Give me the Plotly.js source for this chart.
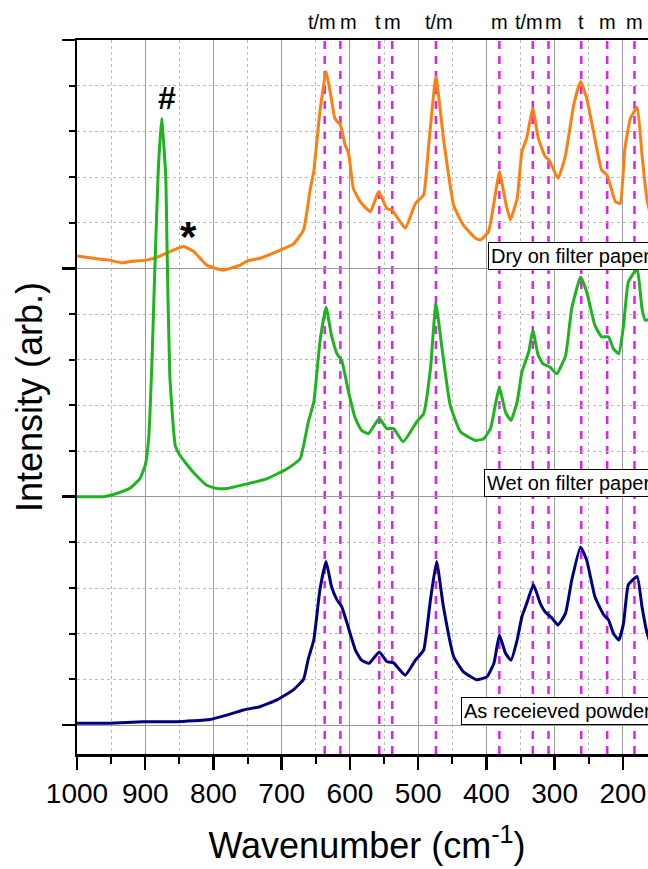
<!DOCTYPE html>
<html>
<head>
<meta charset="utf-8">
<script src="https://cdn.plot.ly/plotly-3.0.1.min.js"></script>
<style>
html, body { margin: 0; padding: 0; overflow: hidden; background: #fff; }
#chart { width: 700px; height: 869px; }
</style>
</head>
<body>
<div id="chart"></div>
<script>
// ---- Data (relative intensity above each spectrum's own baseline) ----
const dryWn = [1000, 976, 953, 934, 922, 898, 878, 859, 844, 829, 810, 786, 761, 751, 732, 702, 683, 668, 658, 653, 644, 635, 629, 622, 614, 607, 602, 595, 585, 570, 558, 546, 538, 519, 504, 492, 485, 474, 463, 448, 434, 416, 409, 397, 387, 381, 372, 365, 355, 348, 341, 332, 324, 314, 308, 295, 284, 272, 262, 253, 243, 231, 223, 211, 204, 197, 189, 179, 172, 165, 160];
const dryI  = [0.27, 0.22, 0.18, 0.12, 0.15, 0.18, 0.27, 0.40, 0.48, 0.37, 0.07, -0.04, 0.07, 0.16, 0.22, 0.40, 0.53, 0.84, 1.75, 2.12, 3.43, 4.31, 3.87, 3.28, 3.14, 2.70, 2.52, 1.75, 1.46, 1.24, 1.68, 1.31, 1.27, 0.88, 1.42, 1.61, 2.63, 4.19, 2.85, 1.38, 0.95, 0.66, 0.62, 0.80, 1.61, 2.12, 1.46, 1.06, 1.53, 2.55, 2.85, 3.50, 2.85, 2.45, 2.37, 1.97, 2.48, 3.58, 4.09, 3.72, 2.99, 2.15, 2.04, 1.46, 1.42, 2.63, 3.28, 3.53, 2.48, 1.53, 1.20];

const wetWn = [1000, 961, 942, 922, 908, 900, 895, 890, 887, 881, 876, 870, 868, 864, 856, 849, 830, 810, 795, 780, 751, 722, 692, 673, 661, 653, 644, 635, 627, 619, 612, 602, 592, 583, 573, 557, 546, 536, 522, 502, 492, 482, 474, 465, 453, 438, 416, 404, 394, 387, 381, 372, 364, 355, 348, 338, 332, 324, 317, 307, 297, 284, 275, 262, 253, 241, 231, 221, 214, 206, 199, 192, 179, 172, 167, 160];
const wetI  = [0.0, 0.0, 0.07, 0.19, 0.39, 0.69, 1.27, 3.02, 4.49, 7.11, 8.28, 7.04, 5.43, 2.66, 1.12, 0.90, 0.54, 0.25, 0.18, 0.18, 0.28, 0.39, 0.61, 0.83, 1.64, 2.07, 3.39, 4.15, 3.53, 3.13, 2.98, 2.29, 1.71, 1.45, 1.38, 1.71, 1.49, 1.49, 1.20, 1.64, 1.82, 2.80, 4.23, 3.24, 2.00, 1.42, 1.23, 1.27, 1.49, 2.00, 2.40, 1.85, 1.67, 2.07, 2.73, 3.17, 3.64, 3.09, 2.91, 2.84, 2.69, 3.09, 4.12, 4.81, 4.48, 3.75, 3.50, 3.50, 3.24, 3.13, 3.75, 4.70, 4.99, 4.12, 3.86, 3.90];

const powWn = [1000, 952, 903, 854, 805, 780, 756, 732, 707, 683, 668, 661, 653, 644, 635, 627, 619, 612, 602, 592, 583, 572, 557, 546, 536, 519, 504, 492, 482, 473, 463, 448, 434, 414, 399, 389, 381, 372, 364, 355, 348, 341, 331, 321, 314, 304, 295, 284, 275, 262, 253, 241, 228, 221, 214, 206, 199, 192, 179, 172, 165, 160];
const powI  = [0.04, 0.04, 0.07, 0.07, 0.12, 0.22, 0.33, 0.40, 0.55, 0.77, 1.00, 1.45, 1.86, 2.96, 3.58, 3.03, 2.74, 2.59, 2.12, 1.64, 1.42, 1.35, 1.60, 1.39, 1.36, 1.09, 1.42, 1.64, 2.74, 3.58, 2.59, 1.50, 1.17, 0.99, 1.06, 1.35, 1.97, 1.57, 1.42, 1.86, 2.37, 2.66, 3.07, 2.66, 2.48, 2.34, 2.19, 2.45, 3.17, 3.90, 3.61, 2.81, 2.41, 2.30, 2.01, 1.86, 2.23, 3.07, 3.25, 2.59, 2.04, 1.80];

const seriesNames = ["Dry on filter paper", "Wet on filter paper", "As receieved powder"];
const seriesOffsets = [10, 5, 0];

// Band assignments (wavenumber, label)
const bandWn     = [637, 614, 557, 538, 474, 381, 332, 309, 261, 223, 183];
const bandLabels = ["t/m", "m", "t", "m", "t/m", "m", "t/m", "m", "t", "m", "m"];

// Marker symbols on the spectra
const markWn    = [868, 836];
const markY     = [13.73, 10.82];
const markText  = ["#", "*"];

// ---- Styles ----
const colors = ["#ff7f0e", "#1db41d", "#000080"];
const labelShift = [-3, 8, -1, 0, 3, 0, -4, 5, 0, 0, 0];
const font = "Liberation Sans, Arial, sans-serif";

const wnSets = [dryWn, wetWn, powWn];
const iSets = [dryI, wetI, powI];

const traces = wnSets.map((wn, k) => ({
  x: wn,
  y: iSets[k].map(v => v + seriesOffsets[k]),
  type: "scatter",
  mode: "lines",
  name: seriesNames[k],
  line: { color: colors[k], width: 3, shape: "spline", smoothing: 0.4 },
  hoverinfo: "skip"
}));

const shapes = bandWn.map(w => ({
  type: "line", xref: "x", yref: "paper",
  x0: w, x1: w, y0: 0, y1: 1,
  line: { color: "#e020f0", width: 2.5, dash: "8px,7px" },
  layer: "between"
}));

const annotations = [];
bandWn.forEach((w, i) => {
  annotations.push({
    x: w, xref: "x", y: 1.025, yref: "paper",
    text: bandLabels[i], showarrow: false,
    xanchor: "center", yanchor: "middle", xshift: labelShift[i],
    font: { family: font, size: 20, color: "#000" }
  });
});
markWn.forEach((w, i) => {
  annotations.push({
    x: w, xref: "x", y: markY[i], yref: "y",
    text: "<b>" + markText[i] + "</b>", showarrow: false,
    xanchor: "center", yanchor: "middle",
    yshift: i === 1 ? -6 : 0,
    font: { family: font, size: i === 1 ? 42 : 32, color: "#000" }
  });
});
// Sample name boxes
const boxX = [397, 404, 437];
const boxY = [10.28, 5.30, 0.31];
seriesNames.forEach((n, k) => {
  annotations.push({
    x: boxX[k], xref: "x", y: boxY[k], yref: "y",
    text: n, showarrow: false, xanchor: "left", yanchor: "middle",
    bgcolor: "#fff", bordercolor: "#000", borderwidth: 1, borderpad: 2,
    font: { family: font, size: 20, color: "#000" }
  });
});

const layout = {
  width: 700, height: 869,
  margin: { l: 77, r: 43, t: 40, b: 115 },
  paper_bgcolor: "#fff", plot_bgcolor: "#fff",
  showlegend: false,
  xaxis: {
    range: [1000, 150], autorange: false,
    tick0: 0, dtick: 100,
    ticks: "outside", ticklen: 13, tickwidth: 2.5, tickcolor: "#000",
    showline: true, linewidth: 2.5, linecolor: "#000", mirror: true,
    showgrid: true, gridcolor: "#9a9a9a", gridwidth: 1, zeroline: false,
    minor: { dtick: 50, ticks: "outside", ticklen: 7, tickwidth: 2, tickcolor: "#000",
             showgrid: true, gridcolor: "#bdbdbd", griddash: "dot", gridwidth: 1 },
    tickfont: { family: font, size: 28, color: "#000" },
    title: { text: "Wavenumber (cm<sup>-1</sup>)", font: { family: font, size: 36, color: "#000" }, standoff: 25 }
  },
  yaxis: {
    range: [-0.635, 15], autorange: false,
    tick0: 0, dtick: 5,
    ticks: "outside", ticklen: 13, tickwidth: 2.5, tickcolor: "#000",
    showticklabels: false,
    showline: true, linewidth: 2.5, linecolor: "#000", mirror: true,
    showgrid: true, gridcolor: "#9a9a9a", gridwidth: 1, zeroline: false,
    minor: { dtick: 1, ticks: "outside", ticklen: 6, tickwidth: 2, tickcolor: "#000",
             showgrid: true, gridcolor: "#bdbdbd", griddash: "dot", gridwidth: 1 },
    title: { text: "Intensity (arb.)", font: { family: font, size: 36, color: "#000" }, standoff: 8 }
  },
  shapes: shapes,
  annotations: annotations
};

Plotly.newPlot("chart", traces, layout, { displayModeBar: false, staticPlot: true });
</script>
</body>
</html>
